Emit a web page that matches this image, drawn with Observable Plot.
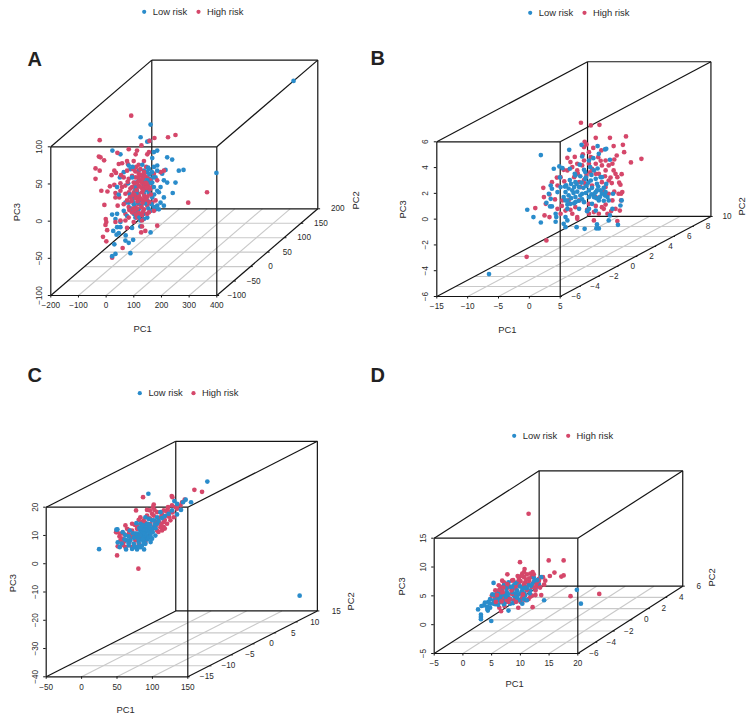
<!DOCTYPE html>
<html><head><meta charset="utf-8">
<script src="https://cdn.jsdelivr.net/npm/d3@7"></script>
<script src="https://cdn.jsdelivr.net/npm/@observablehq/plot@0.6"></script>
<style>
html,body{margin:0;padding:0;background:#fff}
#chart{position:relative;width:751px;height:718px;overflow:hidden}
#chart>div{position:absolute}
</style></head><body><div id="chart"></div>
<script>
// Readings: [PC1, PC3] or [PC1, PC3, PC2]. PC2 cannot be recovered from a flat picture, so it defaults to 0.
const groups = ["Low risk","High risk"];
const groupColors = ["#2A8CCB","#D5476A"];

const A_low = [[39,91],[3,74],[27,68],[35,69],[-99,56],[-70,51],[63,56],[51,54],[45,46],[99,47],[117,44],[141,29],[158,30],[277,26],[400,100,128],[129,13],[119,-1],[99,13],[87,16],[93,30],[81,25],[63,36],[51,34],[33,31],[15,29],[-4,29],[-34,31],[-40,36],[-58,27],[-72,20],[27,27],[39,18],[57,20],[75,7],[69,0],[87,-7],[75,-14],[63,-18],[51,-20],[39,-25],[27,-34],[15,-36],[2,-38],[39,-54],[-28,-48],[2,-46],[-22,-7],[-10,2],[-16,13],[-4,16],[2,-11],[15,-2],[27,-11],[45,-7],[-40,-14],[-52,-14],[-76,-3],[-58,-25],[-82,-29],[-100,-30],[-88,-36],[-70,-40],[-96,-52],[-82,-47],[-70,-47],[-84,-57],[-76,-55],[-51,-58],[-24,-64],[-40,-68],[-92,-70],[-52,-65],[-34,-82],[-88,-83],[-100,-86],[-22,-29],[-16,-34],[-46,-32],[15,-29],[57,-23],[69,-23],[33,0],[51,7],[63,2],[-4,-23],[-22,-16],[8,22],[-16,4],[20,7],[45,13],[-28,20],[63,29],[-82,7],[87,-18],[27,16],[-18,8],[-8,-14],[6,-18],[22,3],[36,12],[50,20],[44,27],[30,33],[12,12],[-12,-2],[-30,-22],[-36,-3],[42,-16],[31,-22],[-10,-26],[-2,-33],[-42,12],[-26,-12],[20,-15],[52,-3],[28,8],[14,18],[-26,34],[9,37],[35,24]];
const A_high = [[-31,103],[-145,70],[102,74],[129,77],[53,73],[35,69],[6,63],[-40,58],[-148,48],[-142,47],[-129,43],[-81,53],[-160,32],[-145,29],[-160,18],[-102,23],[-92,29],[-86,26],[-76,38],[-64,39],[-46,42],[-43,38],[-15,51],[-10,56],[27,51],[33,54],[-4,37],[-22,42],[15,42],[23,34],[-139,2],[-117,1],[-108,8],[-92,10],[-70,12],[-88,-1],[-74,-7],[-88,-7],[-128,-17],[-80,-18],[243,0],[175,-14],[-123,-36],[-121,-40],[-124,-44],[-118,-51],[-133,-60],[-121,-66],[-62,-75],[-100,-88],[-46,-48],[63,-45],[8,-46],[20,-52],[-52,-29],[-40,-20],[-28,-11],[-10,7],[2,16],[15,9],[27,4],[-16,20],[-28,22],[-40,18],[-52,9],[-64,7],[-70,2],[-22,0],[-4,-2],[8,0],[20,-7],[33,-2],[45,7],[15,-11],[-4,-16],[-16,-20],[-28,-27],[-40,-34],[-52,-38],[2,-29],[15,-23],[27,-18],[-10,-34],[-22,-40],[39,16],[51,25],[75,27],[87,29],[63,16],[27,20],[15,27],[-4,25],[-58,20],[-46,29],[-68,23],[-24,31],[-13,34],[2,31],[45,-14],[57,-11],[-70,-38],[-46,-11],[-58,-16],[-40,0],[-52,-2],[27,-29],[8,-38],[-10,-7],[-22,13],[-4,9],[8,13],[20,13],[-28,7],[-36,-7],[33,-27],[51,-25],[-88,-40],[5,-54],[-18,12],[-12,3],[-6,14],[0,8],[6,6],[12,3],[18,9],[24,12],[30,8],[36,4],[-20,-3],[-14,-8],[-8,-12],[-2,-6],[4,-9],[10,-14],[16,-5],[22,-10],[28,-6],[34,-13],[-34,5],[-30,-12],[-26,-4],[-18,-24],[-10,-22],[-4,-28],[6,-20],[12,-26],[-6,20],[3,23],[10,18],[18,22],[24,6],[-16,28],[-24,-22],[40,-3],[-44,14],[-38,-24],[8,-31],[-14,-30]];

const B_low = [[-7.3,2.64],[-5.2,1.58],[-4.3,1.76],[-3.8,1.63],[-2.7,3.05],[-.7,3.44],[1.9,3.34],[3.1,3.08],[3.3,3.13],[2.1,2.74],[-.6,2.53],[3.9,2.28],[.5,2.22],[-1.7,1.06],[-1.8,1.19],[-2.6,1.58],[-.1,1.32],[1.3,1.45],[2.4,.93],[-4.2,.91],[-4.1,.16],[-5.7,.28],[-5.5,.03],[-6,-.36],[-4.6,-.23],[-5.7,-.75],[-6.4,-1.06],[-5.8,-1.34],[-5.5,-1.34],[-9.5,-1.6],[-8.5,-2.17],[-7.3,-2.59],[-4.9,-1.91],[-4.9,-2.53],[-4.8,-2.17],[-3.3,-2.17],[-3,-2.43],[-3.6,-2.69],[-3.3,-2.95],[-1.5,-2.95],[-.2,-3.08],[1.8,-2.74],[1.7,-3.05],[2.1,-3.05],[5.2,-2.77],[3.9,-2.04],[3.7,-2.43],[4.3,-1.53],[5.8,-.88],[5.6,-1.27],[4.4,-.36],[3.5,-.62],[3.2,-.23],[1.8,-.1],[1.6,-.23],[.5,-.1],[-.6,-.36],[-1.7,-.62],[-2.8,-.49],[-3.3,-.23],[-3.6,-.62],[-2.2,-.1],[-1.1,.16],[-.1,.8],[.8,.67],[1.8,.41],[2.6,.93],[-1.7,-1.01],[-.3,-1.01],[1,-1.14],[2.1,-.88],[.5,-1.53],[-1.1,-1.53],[-2.5,-1.14],[-3,-1.53],[.5,-.62],[1.3,-.62],[2.6,-.36],[3.7,-.88],[.2,-1.71],[1.6,-1.66],[-1.7,.54],[-1.9,.16],[-3.3,-.88],[-15.7,-6.59],[-3.2,.3],[-2.8,.05],[-2.4,.4],[-2,-.3],[-1.4,-.2],[-.9,-.5],[-.4,.1],[.1,.25],[.4,.5],[1,.1],[1.4,-.35],[2,.2],[2.4,-.1],[2.9,.1],[3.1,-.5],[-3,-.9],[-2.4,-.7],[-1.9,-1.1],[-1.2,-.9],[-.6,-.8],[0,-.3],[.9,-.4],[1.7,-.7],[2.3,-.6],[2.9,-.9],[-1.5,.4],[-.7,.5],[0,.9],[.9,1.1],[1.6,.8],[-.9,1],[-2.6,.7],[-3.4,.2],[-.3,1.5],[.7,1.7],[1.9,1.6],[-1,1.9],[-3,-1.2],[3.3,.4],[1.2,2.4]];
const B_high = [[-.8,5.15],[.8,4.94],[2.2,4.99],[-.2,3.67],[1.6,3.98],[3.9,3.98],[6.5,4.09],[4.5,3.34],[6,3.44],[6.2,2.87],[5,2.61],[7.3,2.07],[9,2.35],[-.3,3.26],[.1,3.47],[-3,2.43],[.5,2.87],[2,2.48],[3.2,2.22],[3.7,1.84],[4.5,1.45],[5.1,.93],[5.8,1.16],[5.6,.34],[5.9,-.23],[5.7,-.36],[5.3,-.36],[5.7,-.88],[5.5,-1.66],[5.1,-2.48],[3.7,.67],[4.2,.47],[3.2,.16],[2.6,.54],[1.6,1.19],[.5,1.97],[-.6,1.84],[-1.4,1.97],[-2.2,1.71],[-3,1.45],[-3.6,1.5],[-4.1,.93],[-4.6,.28],[-5.5,.54],[-6.9,.1],[-5.9,-.41],[-6.8,-.62],[-6.5,-1.14],[-8.2,-1.47],[-6.7,-2.04],[-5.9,-2.17],[-4.6,-1.53],[-4.1,-1.91],[-3.3,-1.66],[-2.2,-1.91],[-1.4,-2.17],[.5,-1.91],[1.3,-1.78],[2.1,-1.91],[2.9,-1.53],[3.5,-1.91],[-1.7,-1.4],[-2.8,-.88],[-3.8,-.88],[-1.1,-.88],[.5,-1.14],[1.6,-.62],[-.1,.41],[-1.1,.54],[-1.9,.93],[1,.28],[2.1,1.19],[3.2,1.45],[4.3,1.97],[4.8,1.19],[-1.4,1.45],[-.3,2.22],[1.6,1.97],[.8,2.48],[2.6,1.84],[2.6,-1.4],[4.3,-.88],[4.8,-1.53],[1.3,-2.43],[-1.4,-2.3],[-6.4,-3.98],[-9.6,-5.25],[1,1.58],[-.9,.16],[3.7,-.36],[-.5,2.7],[1.2,3.2],[2.5,3],[-1.8,2.5],[4.6,2.3],[3.1,1],[4,.9],[4.6,-.2],[-3.5,.6],[-5,-.8],[-3.9,-1.3],[-2.5,-1.6],[.2,-1.6],[1.6,-1.3],[3.2,-1.2],[4.1,-1.7],[-.3,.7],[.7,1.3],[-1.3,1.2],[-4.7,.9],[2.4,2.2],[.1,1.1],[5.4,.5],[-2.5,2.1],[2.9,-.2]];

const C_low = [[2.8,13.1],[86.1,17.4],[-66.8,-6.5],[150,-31.4,10.9],[-42.4,.4],[-40.9,.5],[-33.4,-.5],[-14.1,2.7],[-23.5,.1],[-40.5,-4.1],[-37.6,-5.8],[-28.7,-6.6],[-24.9,-5.2],[-20.2,-6.4],[-13.2,-6.6],[-3.3,-6.6],[-8.5,-5.8],[-1.4,-4.6],[8,-2.8],[12.7,-1.7],[19.8,6.6],[39.5,10.5],[43.3,9.5],[51.8,10.1],[55.5,11],[63.1,10.1],[48.9,7.4],[43.3,5.8],[36.2,7.2],[31.5,6],[15.1,4.8],[8,3.7],[.9,2.5],[-3.8,1.3],[-8.5,.1],[-1.4,-.5],[.9,.7],[-6.1,-1.7],[.9,-2.2],[5.6,-1.1],[-13.2,-2.2],[-10.8,-4],[-17.9,-4.6],[-22.6,-3.4],[-8.5,2.5],[-1.4,4.8],[3.3,4.2],[10.4,3.7],[15.1,2.5],[-3.8,-3.4],[-15.5,-5.8],[-6.1,-5.2],[-27.3,-3.4],[3.3,1.3],[-6.1,-.5],[-2.8,-2.2],[-12,-1],[-10,1],[-7,-3],[-5,.5],[-3,-1],[-2,1.8],[0,-1.5],[2,.2],[4,-.4],[6,.8],[-4,-4],[-1,-3],[1.5,-3],[3,-2.5],[6,-2],[9,-.5],[10,1],[12,2.2],[-9,-1.5],[-11,-3],[-15,-1],[-6,2],[2,2.5],[5,2],[-18,-2.5],[-19,-.9],[-25,-2],[-31,-3],[-35,-4.5],[-30,-1.5],[13,.9],[17,3.5],[22,4.5],[26,5.2],[6,-4],[-11,-5.5],[-17,-5.4],[-25,-4.4],[-5,-3],[-8,.8]];
const C_high = [[-4.7,11.9],[67.8,14.5],[78.6,13.8],[-41.4,-8.7],[-11.3,-13.4],[35.8,12.3],[36.7,11.9],[10.4,9.3],[9.4,8.4],[-14.6,7.2],[.9,7.4],[11.3,7.4],[30.6,8.4],[36.2,9],[40.9,8.4],[48,9],[50.4,10.1],[54.1,11],[-29.6,1.9],[-20.2,2.5],[-16.5,2.1],[-10.8,3.9],[-8.5,4.8],[.9,4.8],[10.4,5.4],[19.8,4.8],[29.2,5.4],[38.6,4.8],[33.9,3.7],[24.5,3.1],[15.1,2.5],[5.6,2.5],[-3.8,3.7],[22.1,.1],[15.1,.1],[19.8,1.3],[29.2,2.5],[10.4,1.3],[-13.2,.7],[-20.2,.1],[-24.9,-1.1],[-34.4,-2.8],[-29.6,-3.4],[-36.7,-3.4],[-40.5,-5.5],[-32,-4],[-22.6,-2.2],[-17.9,-1.1],[-15.5,-3.4],[-10.8,-4.6],[-1.4,-4],[-41.4,-.5],[-42.8,-.5],[-27.3,.7],[-29.6,-5.8],[-20.2,-5.8],[8,6],[15.1,6.6],[24.5,7.2],[33.9,6.6],[43.3,7.8],[-6.1,1.3],[-15.5,-1.1],[.9,5.4],[24.5,1.3],[-8.5,-2.8],[3.3,-1.7],[-25,.3],[-21,-1.5],[-32,-1],[-38,-2],[-24,-3.8],[-13,1.7],[-6,3.2],[-2,2.9],[5,4.4],[12,3.5],[18,3.1],[26,3.8],[32,5],[37,6.5],[22,5.9],[28,6.9],[17,-.4],[26,.8],[21,2.4],[13,1.6],[7,.2],[-33,-5],[-37,-1],[30,7.7],[5,7.2]];

const D_low = [[-3.8,1.4],[10.7,.2],[11.4,-2.2],[5,-1.6],[-1.2,-3.4],[-4.2,-5.2],[-6,-4.1],[-6,-4.5],[-6,-4.9],[-6.5,-3.2],[-5.9,-2.6],[-5.5,-2.5],[-4.9,-2.7],[-4.8,-3.4],[-4.4,-2.9],[-4.4,-1.4],[-3.8,-1.6],[-3.5,-2.3],[-2.6,-1.9],[-1.7,-1.9],[-.9,-2.2],[0,-1.1],[.9,-1.5],[1.7,-.8],[2.6,.1],[3.5,.4],[4.1,1.2],[4.5,2.4],[3.2,2.4],[2.3,1],[1.2,.1],[.3,.1],[-.6,.4],[-1.5,-.2],[-2.3,.1],[-2.9,-1.1],[-3.2,-.2],[-1.2,1.5],[-.3,1],[.6,1.2],[-2,1],[-4.4,-2.2],[-4.9,-3.1],[-3.5,-1.6],[-2.3,-1.4],[-1.2,-1.1],[-.3,-.8],[.6,-1.6],[1.5,-1.4],[2,-1.6],[1.2,-2.2],[-2.9,-1.6],[-3.5,-.7],[-3,-.3],[-2.6,-1],[-2,-.6],[-1.8,-1.7],[-1.3,-.5],[-.9,-1.4],[-.5,-.2],[.1,-.4],[.6,-.6],[1,-.3],[1.5,-.4],[2,.5],[2.7,.9],[3,1.3],[3.8,.9],[-1.6,.5],[-.8,.7],[0,1.4],[.8,.8],[1.7,.6],[-3.8,-2.2],[-3,-2.4],[-2,-2.3],[-.4,-2.1],[.3,-1.2],[-1.6,-1],[-4,-.6],[-4.7,-1.9],[-5.3,-2],[1.3,.4],[2.5,-.4],[3.3,1.8],[3.8,1.9]];
const D_high = [[2.3,13.4],[.8,5],[5.8,5.3],[8.4,5.3],[1.6,3.8],[3,3.3],[6.8,3.2],[8.4,2.7],[8,2.5],[-1.4,2.9],[6,2.6],[4.8,2.4],[5.2,1.8],[1.2,3],[1.5,2.4],[2.9,2.4],[4.1,2.1],[-2.3,1.8],[-2.9,1],[-2,1.5],[-.6,1.8],[.3,1.5],[1.7,1.5],[2.3,1.2],[3.2,1.5],[-4.1,-.8],[-3.5,-1.1],[-2.6,.7],[-1.5,.4],[0,.4],[1.2,.7],[2,.1],[2.9,.7],[3.5,.1],[4.5,-.7],[9.6,-.9],[14.6,-.5],[3,-2.8],[.5,-2.9],[-2.8,-2.9],[-2.5,-3.5],[-1.9,-2.6],[-1.2,-1.9],[-.3,-1.6],[.9,-1.9],[1.7,-1.6],[2.3,-1.4],[1.2,-1.1],[.3,-.8],[-2,-1.1],[-2.6,-.5],[-.6,-.5],[1.5,1.2],[.6,1],[2.9,-.8],[4.1,1.8],[2.6,3],[1.5,3.3],[-3.5,.1],[-1.5,-1.6],[-2.8,.2],[-2.2,-.2],[-1.2,.9],[-.7,.1],[.2,.9],[.9,1.7],[1.7,.7],[2.4,1.8],[3.6,.8],[4.3,.6],[.6,2.1],[1,2.6],[2,2.9],[2.4,2.2],[3.2,2.9],[3.7,1.4],[-2.1,.6],[-3.2,-.7],[-1,-1.4],[.1,-1.9],[1.3,-.6],[2.6,-1],[3.5,-.7],[-.4,1.9],[-1.4,1.2],[5,1.1],[.4,2.6],[1.9,2],[-3.4,-1.9],[-2.4,-1.8]];

const A_pc1 = [-200,-100,0,100,200,300,400], A_pc2 = [-100,-50,0,50,100,150,200], A_pc3 = [-100,-50,0,50,100];
const B_pc1 = [-15,-10,-5,0,5], B_pc2 = [-6,-4,-2,0,2,4,6,8,10], B_pc3 = [-6,-4,-2,0,2,4,6];
const C_pc1 = [-50,0,50,100,150], C_pc2 = [-15,-10,-5,0,5,10,15], C_pc3 = [-40,-30,-20,-10,0,10,20];
const D_pc1 = [-5,0,5,10,15,20], D_pc2 = [-6,-4,-2,0,2,4,6], D_pc3 = [-5,0,5,10,15];

// Page-pixel layout of each panel; depth = how far the full PC2 range shifts along PC1 and PC3.
const panels = [
 {id:"A",low:A_low,high:A_high,pc1:A_pc1,pc2:A_pc2,pc3:A_pc3,order:"mix",depth:[365,116.6],
  cell:[0,0,362,359],front:[50.3,216.3,146.3,295],pc2Dx:20,
  letter:[27,59],pc1T:[133,328],pc3T:[16,220.7],pc2T:[355.7,209],legend:[143.7,11.3,198]},
 {id:"B",low:B_low,high:B_high,pc1:B_pc1,pc2:B_pc2,pc3:B_pc3,order:"high",depth:[24.43,6.21],
  cell:[362,0,389,359],front:[436.3,559.7,141.3,296],pc2Dx:16,
  letter:[370,58],pc1T:[497.7,329],pc3T:[402.7,218],pc2T:[741,215],legend:[529.7,12.3,584]},
 {id:"C",low:C_low,high:C_high,pc1:C_pc1,pc2:C_pc2,pc3:C_pc3,order:"high",depth:[183,23.3],
  cell:[0,359,362,359],front:[45.7,187.3,506.7,676.3],pc2Dx:19,
  letter:[27,375],pc1T:[116,709],pc3T:[12,591.7],pc2T:[350.7,610],legend:[139.3,392.7,193]},
 {id:"D",low:D_low,high:D_high,pc1:D_pc1,pc2:D_pc2,pc3:D_pc3,order:"mix",depth:[18.27,11.68],
  cell:[362,359,389,359],front:[433.7,577.3,537.7,653],pc2Dx:16,
  letter:[370,375],pc1T:[505,683.3],pc3T:[401,595],pc2T:[711.3,586],legend:[513.7,435.3,567.7]}
];

const fmt = d => d < 0 ? "\u2212" + (-d) : String(d);
const ink = "#141414", gridInk = "#c9c9c9", textInk = "#2a2a2a";

function zip(a,b){
  const out = [];
  for(let i=0;i<Math.max(a.length,b.length);i++){ if(i<a.length) out.push(a[i]); if(i<b.length) out.push(b[i]); }
  return out;
}

function draw(p){
  const [cl,ct,cw,ch] = p.cell, [fl,fr,ft,fb] = p.front;
  const x0 = p.pc1[0], x1 = p.pc1[p.pc1.length-1];
  const y0 = p.pc2[0], y1 = p.pc2[p.pc2.length-1];
  const z0 = p.pc3[0], z1 = p.pc3[p.pc3.length-1];
  const X = (a,b) => a + p.depth[0]*(b-y0)/(y1-y0);
  const Z = (c,b) => c + p.depth[1]*(b-y0)/(y1-y0);
  const seg = (a1,b1,c1,a2,b2,c2) => ({x1:X(a1,b1),y1:Z(c1,b1),x2:X(a2,b2),y2:Z(c2,b2)});
  const links = (rows,o) => Plot.link(rows,{x1:"x1",y1:"y1",x2:"x2",y2:"y2",...o});

  const grid = [
    ...p.pc1.slice(1,-1).map(a=>seg(a,y0,z0,a,y1,z0)),
    ...p.pc2.slice(1,-1).map(b=>seg(x0,b,z0,x1,b,z0))
  ];
  const box = [
    seg(x0,y0,z0,x1,y0,z0),seg(x0,y0,z1,x1,y0,z1),seg(x0,y0,z0,x0,y0,z1),seg(x1,y0,z0,x1,y0,z1),
    seg(x0,y1,z0,x1,y1,z0),seg(x0,y1,z1,x1,y1,z1),seg(x0,y1,z0,x0,y1,z1),seg(x1,y1,z0,x1,y1,z1),
    seg(x0,y0,z0,x0,y1,z0),seg(x1,y0,z0,x1,y1,z0),seg(x0,y0,z1,x0,y1,z1),seg(x1,y0,z1,x1,y1,z1)
  ];
  const tick = (x1-x0)*0.014;
  const depthTicks = p.pc2.map(b=>({...seg(x1,b,z0,x1,b,z0),x2:X(x1,b)+tick}));
  const toRow = g => r => ({pc1:r[0],pc3:r[1],pc2:r.length>2?r[2]:0,group:g});
  const lowRows = p.low.map(toRow(groups[0])), highRows = p.high.map(toRow(groups[1]));
  const rows = p.order==="mix" ? zip(lowRows,highRows) : [...highRows,...lowRows];

  const ax = v => v - fl, ay = v => v - ft;
  const pin = (s,pos,o={}) => Plot.text([s],{frameAnchor:"top-left",lineAnchor:"middle",dx:ax(pos[0]),dy:ay(pos[1]),fontSize:9.4,fill:textInk,...o});

  const plot = Plot.plot({
    width:cw,height:ch,
    marginLeft:fl-cl,marginRight:cl+cw-fr,marginTop:ft-ct,marginBottom:ct+ch-fb,
    x:{domain:[x0,x1],axis:null},
    y:{domain:[z0,z1],axis:null},
    color:{domain:groups,range:groupColors},
    style:{background:"transparent",fontFamily:"'Liberation Sans',Arial,sans-serif",overflow:"visible"},
    marks:[
      links(grid,{stroke:gridInk,strokeWidth:1.1}),
      links(box,{stroke:ink,strokeWidth:1.2}),
      links(depthTicks,{stroke:ink,strokeWidth:1}),
      Plot.axisX({ticks:p.pc1,tickFormat:fmt,tickSize:2.5,tickPadding:4.5,fontSize:8.2,label:null,fill:textInk,stroke:ink}),
      Plot.axisY({ticks:p.pc3,tickFormat:fmt,tickSize:2.5,tickPadding:6,tickRotate:-90,fontSize:8.2,label:null,fill:textInk,stroke:ink,textAnchor:"middle"}),
      Plot.text(p.pc2,{x:b=>X(x1,b),y:b=>Z(z0,b),text:fmt,dx:p.pc2Dx,fontSize:8.2,fill:textInk}),
      Plot.dot(rows,{x:d=>X(d.pc1,d.pc2),y:d=>Z(d.pc3,d.pc2),fill:"group",r:2.35,stroke:"none"}),
      pin("PC1",p.pc1T),
      pin("PC3",p.pc3T,{rotate:-90}),
      pin("PC2",p.pc2T,{rotate:-90}),
      pin(p.id,p.letter,{fontSize:20,fontWeight:"bold",fill:"#222",textAnchor:"start"}),
      Plot.dot([groups[0]],{frameAnchor:"top-left",dx:ax(p.legend[0]),dy:ay(p.legend[1]),r:2.1,fill:d=>d}),
      Plot.dot([groups[1]],{frameAnchor:"top-left",dx:ax(p.legend[2]),dy:ay(p.legend[1]),r:2.1,fill:d=>d}),
      pin(groups[0],[p.legend[0]+8.6,p.legend[1]],{textAnchor:"start"}),
      pin(groups[1],[p.legend[2]+8.4,p.legend[1]],{textAnchor:"start"})
    ]
  });
  const holder = document.createElement("div");
  holder.style.cssText = `left:${cl}px;top:${ct}px;width:${cw}px;height:${ch}px`;
  holder.appendChild(plot);
  document.getElementById("chart").appendChild(holder);
}
panels.forEach(draw);
</script></body></html>
